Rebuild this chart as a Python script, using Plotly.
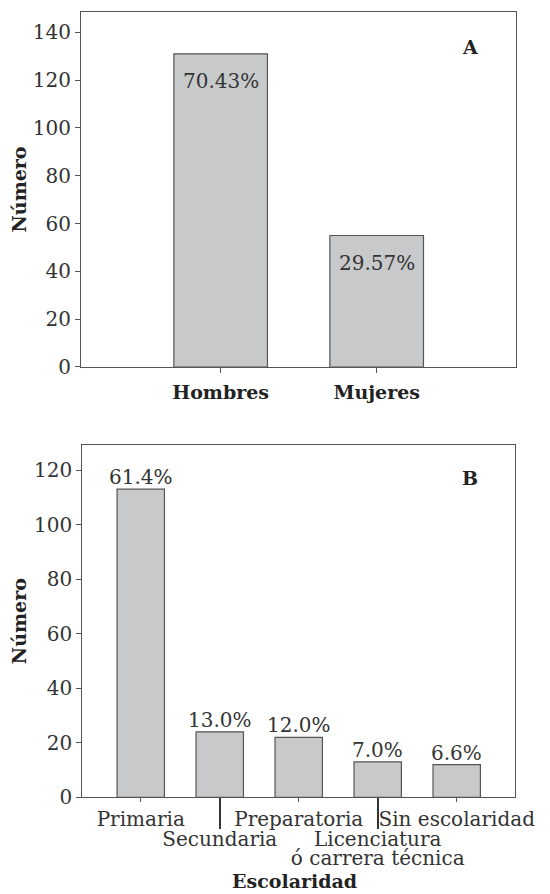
import plotly.graph_objects as go

# ---- data ----
sexo = ["Hombres", "Mujeres"]
sexo_n = [131, 55]
sexo_pct = ["70.43%", "29.57%"]

escolaridad = ["Primaria", "Secundaria", "Preparatoria", "Licenciatura ó carrera técnica", "Sin escolaridad"]
esc_n = [113, 24, 22, 13, 12]
esc_pct = ["61.4%", "13.0%", "12.0%", "7.0%", "6.6%"]
row1 = ["Primaria", "Preparatoria", "Sin escolaridad"]
row1_text = ["Primaria", "Preparatoria", "Sin escolaridad"]
row2 = ["Secundaria", "Licenciatura ó carrera técnica"]
row2_text = ["Secundaria", "Licenciatura"]
row3 = ["Licenciatura ó carrera técnica"]
row3_text = ["ó carrera técnica"]

yticks_a = [0, 20, 40, 60, 80, 100, 120, 140]
yticks_b = [0, 20, 40, 60, 80, 100, 120]

FONT = "DejaVu Serif"
TXT = "#333333"
AX = "#555555"
FILL = "#c8c9cb"
FS = 20
FB = 19

fig = go.Figure()
fig.add_trace(go.Bar(x=sexo, y=sexo_n, width=0.6, marker=dict(color=FILL, line=dict(color=AX, width=1.2)),
                     xaxis="x", yaxis="y", showlegend=False, hoverinfo="skip"))
fig.add_trace(go.Bar(x=escolaridad, y=esc_n, width=0.6, marker=dict(color=FILL, line=dict(color=AX, width=1.2)),
                     xaxis="x2", yaxis="y2", showlegend=False, hoverinfo="skip"))
# invisible helper traces so the extra tick-row axes are drawn
for ax, cats in (("x3", row2), ("x4", row2), ("x5", row3)):
    fig.add_trace(go.Scatter(x=cats, y=[None] * len(cats), xaxis=ax, yaxis="y2", mode="markers",
                             showlegend=False, hoverinfo="skip"))

axis_common = dict(showline=True, linecolor=AX, linewidth=1.2, mirror=True, ticks="outside",
                   ticklen=5, tickcolor=AX, tickwidth=1.2, showgrid=False, zeroline=False,
                   tickfont=dict(family=FONT, size=FS, color=TXT), automargin=False, fixedrange=True)

xd_b = [0.13708, 0.93542]
xr_b = [-0.74, 4.738]
overlay = dict(domain=xd_b, anchor="y2", overlaying="x2", side="bottom", range=xr_b, tickangle=0,
               categoryorder="array", categoryarray=escolaridad, showline=False, mirror=False)

fig.update_layout(
    width=542, height=886,
    margin=dict(l=0, r=0, t=0, b=0),
    paper_bgcolor="white", plot_bgcolor="white",
    xaxis=dict(axis_common, domain=[0.13469, 0.93727], anchor="y", range=[-0.895, 1.893], tickangle=0,
               tickfont=dict(family=FONT, size=FB, color="#222", weight="bold"), ticklabelstandoff=3,
               categoryorder="array", categoryarray=sexo),
    yaxis=dict(axis_common, domain=[0.59481, 0.99549], anchor="x", range=[0, 148.5],
               tickvals=yticks_a,
               title=dict(text="<b>Número</b>", font=dict(family=FONT, size=FB, color="#222"), standoff=6)),
    xaxis2=dict(axis_common, domain=xd_b, anchor="y2", range=xr_b, tickangle=0, ticklen=4,
                categoryorder="array", categoryarray=escolaridad,
                tickvals=row1, ticktext=row1_text),
    # long tick marks of the staggered row
    xaxis3=dict(axis_common, **overlay, tickvals=row2, showticklabels=False,
                ticklen=31, tickwidth=1.8, tickcolor="#333"),
    # second row of labels
    xaxis4=dict(axis_common, **overlay, tickvals=row2, ticktext=row2_text,
                ticklen=24, tickcolor="rgba(0,0,0,0)"),
    # third row (continuation of Licenciatura)
    xaxis5=dict(axis_common, **overlay, tickvals=row3, ticktext=row3_text,
                ticklen=43, tickcolor="rgba(0,0,0,0)"),
    yaxis2=dict(axis_common, domain=[0.10914, 0.50677], anchor="x2", range=[0, 129.2],
                tickvals=yticks_b,
                title=dict(text="<b>Número</b>", font=dict(family=FONT, size=FB, color="#222"), standoff=6)),
)

annotations = []
for cat, v, t in zip(sexo, sexo_n, sexo_pct):
    annotations.append(dict(x=cat, y=v, xref="x", yref="y", text=t, showarrow=False,
                            xanchor="center", yanchor="middle", yshift=-27,
                            font=dict(family=FONT, size=FS, color=TXT)))
for cat, v, t in zip(escolaridad, esc_n, esc_pct):
    annotations.append(dict(x=cat, y=v, xref="x2", yref="y2", text=t, showarrow=False,
                            xanchor="center", yanchor="middle", yshift=12,
                            font=dict(family=FONT, size=FS, color=TXT)))
annotations.append(dict(x=0.894, y=0.901, xref="x domain", yref="y domain", text="<b>A</b>", showarrow=False,
                        xanchor="center", yanchor="middle", font=dict(family=FONT, size=FB, color="#222")))
annotations.append(dict(x=0.896, y=0.906, xref="x2 domain", yref="y2 domain", text="<b>B</b>", showarrow=False,
                        xanchor="center", yanchor="middle", font=dict(family=FONT, size=FB, color="#222")))
annotations.append(dict(x=0.49, y=0.0146, xref="x2 domain", yref="paper", text="<b>Escolaridad</b>",
                        showarrow=False, xanchor="center", yanchor="middle",
                        font=dict(family=FONT, size=FB, color="#222")))
fig.update_layout(annotations=annotations)

fig.write_html("out.html")
